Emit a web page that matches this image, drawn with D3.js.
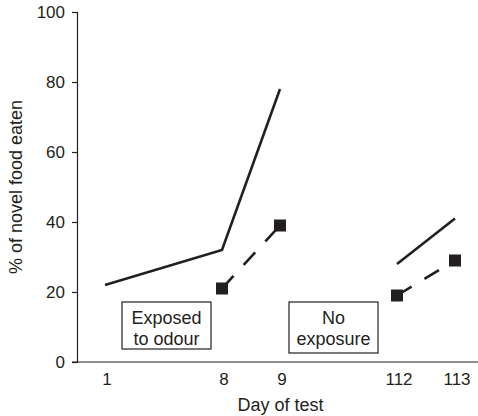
<!DOCTYPE html>
<html><head><meta charset="utf-8">
<script src="https://cdn.jsdelivr.net/npm/d3@7"></script>
<style>
body{margin:0;background:#fff;}
text{font-family:"Liberation Sans",Arial,sans-serif;fill:#231f20;}
</style></head>
<body><svg id="c" width="478" height="416"></svg>
<script>
const days = ["1","8","9","112","113"];
const yTicks = [0,20,40,60,80,100];
// solid line segments (no markers)
const solidA = [{day:"1",v:22},{day:"8",v:32},{day:"9",v:78}];
const solidB = [{day:"112",v:28},{day:"113",v:41}];
// dashed with square markers
const dashA = [{day:"8",v:21},{day:"9",v:39}];
const dashB = [{day:"112",v:19},{day:"113",v:29}];
const notes = [
  {lines:["Exposed","to odour"], x0:122, x1:211, y0:302, y1:349},
  {lines:["No","exposure"], x0:289, x1:378, y0:302, y1:353}
];

const svg = d3.select("#c");
const ink = "#231f20";
const x = d3.scaleOrdinal().domain(days).range([105,222,280,397,455]);
const y = d3.scaleLinear().domain([0,100]).range([362,12]);

// y axis
const ya = svg.append("g").attr("transform","translate(77,0)")
  .call(d3.axisLeft(y).tickValues(yTicks).tickSize(5).tickPadding(7));
ya.select(".domain").attr("stroke",ink).attr("stroke-width",1.2);
ya.selectAll(".tick line").attr("stroke",ink).attr("stroke-width",1.2);
ya.selectAll(".tick text").attr("font-size",17).attr("font-family","Liberation Sans, Arial, sans-serif").attr("fill",ink);

// x axis line
svg.append("line").attr("x1",72).attr("x2",478).attr("y1",y(0)).attr("y2",y(0))
  .attr("stroke",ink).attr("stroke-width",1.2);
svg.append("g").selectAll("text").data(days).join("text")
  .attr("x",d=>x(d)+2).attr("y",385).attr("text-anchor","middle")
  .attr("font-size",17).text(d=>d);

svg.append("text").attr("x",280.5).attr("y",411).attr("text-anchor","middle")
  .attr("font-size",18).text("Day of test");
svg.append("text").attr("transform","translate(22,187) rotate(-90)")
  .attr("text-anchor","middle").attr("font-size",18).text("% of novel food eaten");

const line = d3.line().x(d=>x(d.day)).y(d=>y(d.v));
[solidA,solidB].forEach(s=>{
  svg.append("path").datum(s).attr("d",line).attr("fill","none")
    .attr("stroke",ink).attr("stroke-width",2.6);
});
[dashA,dashB].forEach(s=>{
  svg.append("path").datum(s).attr("d",line).attr("fill","none")
    .attr("stroke",ink).attr("stroke-width",2.6).attr("stroke-dasharray","17,15");
  svg.append("g").selectAll("rect").data(s).join("rect")
    .attr("x",d=>x(d.day)-6).attr("y",d=>y(d.v)-6).attr("width",12).attr("height",12)
    .attr("fill",ink);
});

notes.forEach(n=>{
  svg.append("rect").attr("x",n.x0).attr("y",n.y0).attr("width",n.x1-n.x0).attr("height",n.y1-n.y0)
    .attr("fill","#fff").attr("stroke",ink).attr("stroke-width",1.2);
  const cx=(n.x0+n.x1)/2;
  n.lines.forEach((t,i)=>{
    svg.append("text").attr("x",cx).attr("y",n.y0+22+i*20.5).attr("text-anchor","middle")
      .attr("font-size",18).text(t);
  });
});
</script></body></html>
